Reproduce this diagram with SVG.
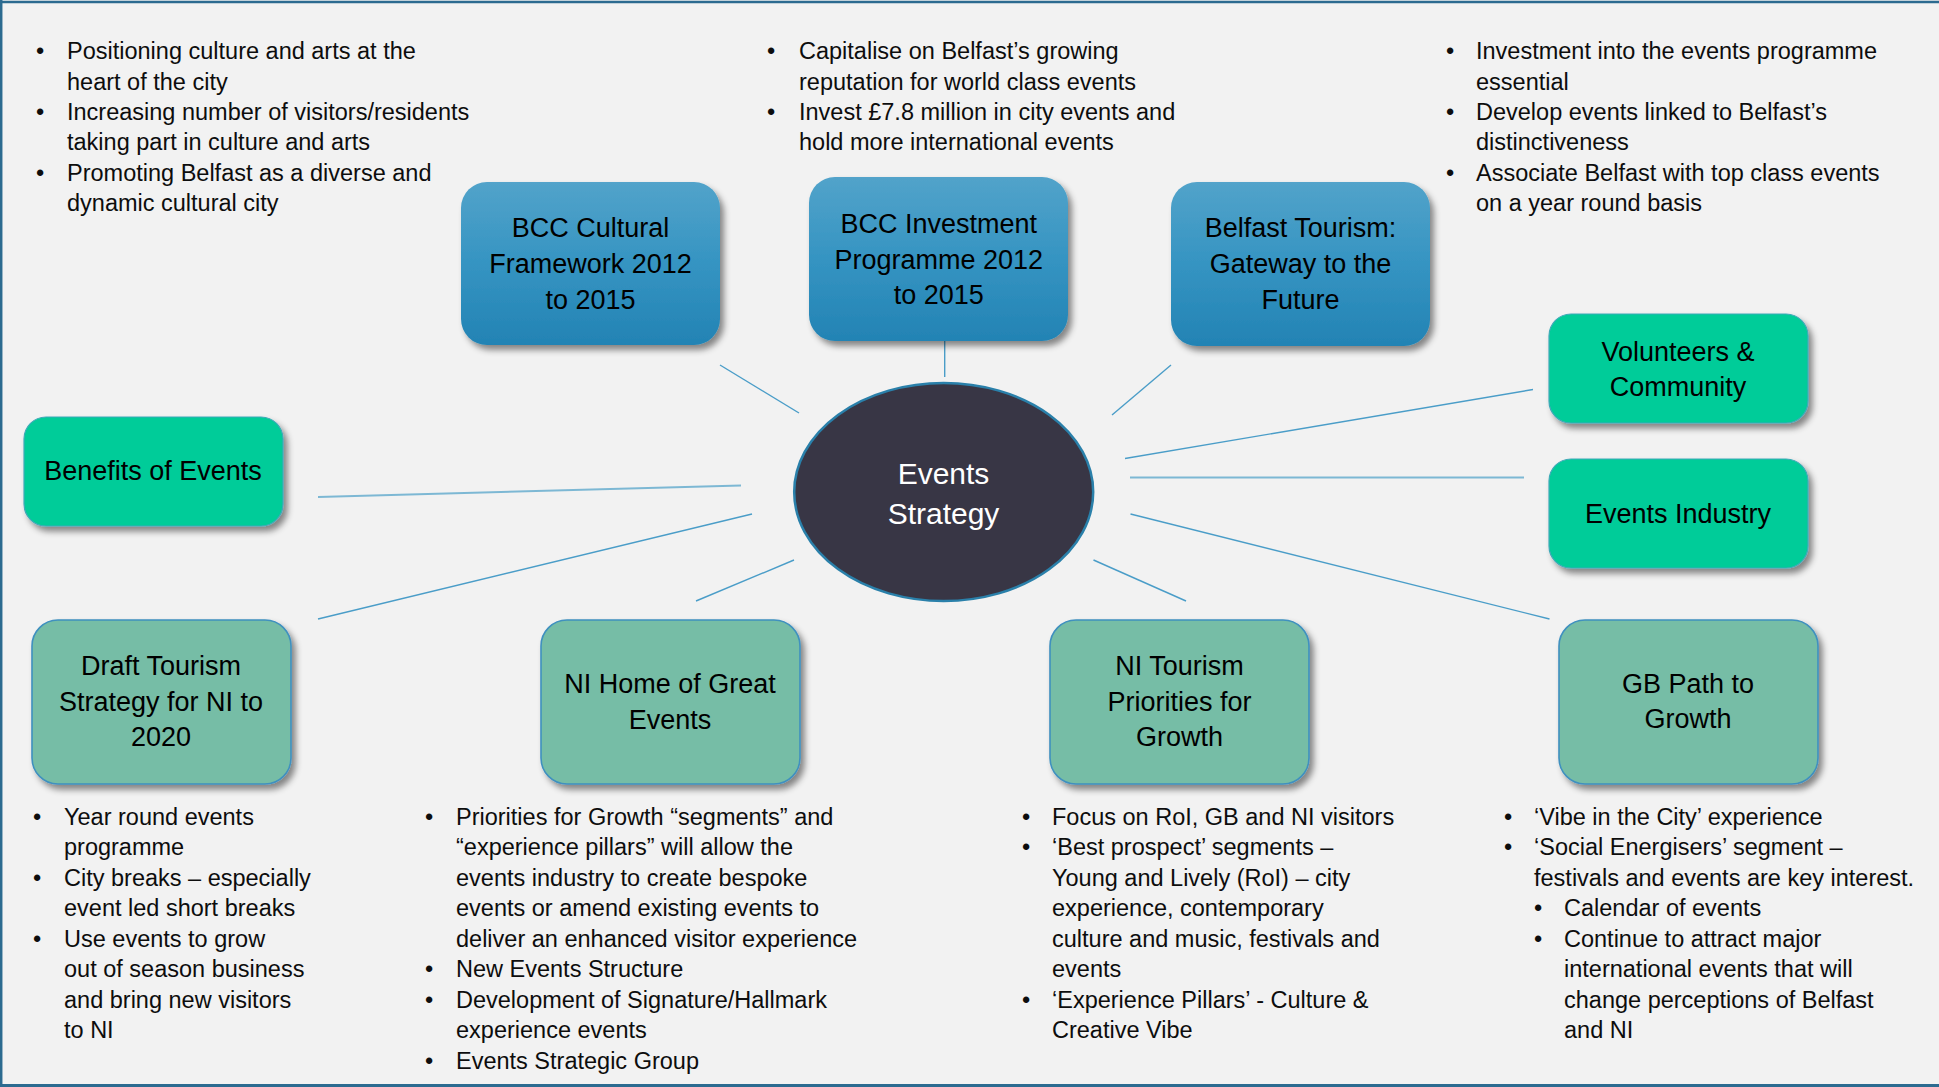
<svg xmlns="http://www.w3.org/2000/svg" width="1939" height="1087" viewBox="0 0 1939 1087">
  <defs>
    <linearGradient id="blueFill" x1="0" y1="0" x2="0" y2="1">
      <stop offset="0" stop-color="#52A3CA"/>
      <stop offset="0.5" stop-color="#3594C2"/>
      <stop offset="1" stop-color="#2383B4"/>
    </linearGradient>
    <filter id="shadow" x="-10%" y="-10%" width="125%" height="130%">
      <feDropShadow dx="4" dy="5" stdDeviation="3" flood-color="#000" flood-opacity="0.45"/>
    </filter>
    <style>
      .body { font-family: "Liberation Sans", Arial, sans-serif; font-size: 23.5px; fill: #0d0d0d; }
      .label { font-family: "Liberation Sans", Arial, sans-serif; font-size: 27px; fill: #000; text-anchor: middle; }
      .hub-label { font-family: "Liberation Sans", Arial, sans-serif; font-size: 30px; fill: #fff; text-anchor: middle; }
      .blue { fill: url(#blueFill); filter: url(#shadow); }
      .green { fill: #00CC99; stroke: #3FA9B8; stroke-width: 1.2; filter: url(#shadow); }
      .teal { fill: #76BDA6; stroke: #3F90BF; stroke-width: 1.6; filter: url(#shadow); }
      .link { stroke: #4A9DC8; stroke-width: 1.4; fill: none; }
      .link-soft { stroke: #7DB8D4; stroke-width: 2; fill: none; }
    </style>
  </defs>

  <!-- page background and frame -->
  <rect x="0" y="0" width="1939" height="1087" fill="#F2F2F2"/>
  <line x1="0" y1="2" x2="1939" y2="2" stroke="#2C6B90" stroke-width="2.5"/>
  <line x1="1.2" y1="0" x2="1.2" y2="1087" stroke="#2C6B90" stroke-width="2.5"/>
  <line x1="0" y1="1085.5" x2="1939" y2="1085.5" stroke="#2C6B90" stroke-width="3"/>

  <!-- connectors -->
  <g id="connectors">
    <line class="link" x1="720" y1="365" x2="799" y2="413"/>
    <line class="link" x1="944.7" y1="328" x2="944.7" y2="377"/>
    <line class="link" x1="1171" y1="365" x2="1112" y2="415"/>
    <line class="link" x1="1533" y1="389.5" x2="1125" y2="458.5"/>
    <line class="link-soft" x1="1130" y1="477.5" x2="1524" y2="477.5"/>
    <line class="link" x1="1130.5" y1="514" x2="1549.5" y2="619"/>
    <line class="link" x1="1093.5" y1="560" x2="1186" y2="601"/>
    <line class="link" x1="794" y1="560" x2="696" y2="601"/>
    <line class="link" x1="752" y1="514" x2="318" y2="619"/>
    <line class="link-soft" x1="741" y1="485.5" x2="318" y2="497"/>
  </g>

  <!-- central hub -->
  <g id="events-strategy">
    <ellipse cx="943.7" cy="492" rx="149.5" ry="109" fill="#383645" stroke="#2A80AA" stroke-width="2.5"/>
    <text class="hub-label" x="943.5" y="484">Events</text>
    <text class="hub-label" x="943.5" y="524">Strategy</text>
  </g>

  <!-- upper strategy documents -->
  <g id="bcc-cultural-framework">
    <rect class="blue" x="461" y="182" width="259" height="163" rx="26"/>
    <text class="label" x="590.5" y="237">BCC Cultural</text>
    <text class="label" x="590.5" y="273">Framework 2012</text>
    <text class="label" x="590.5" y="309">to 2015</text>
  </g>
  <g id="bcc-investment-programme">
    <rect class="blue" x="809" y="177" width="259" height="164" rx="26"/>
    <text class="label" x="938.8" y="233">BCC Investment</text>
    <text class="label" x="938.8" y="269">Programme 2012</text>
    <text class="label" x="938.8" y="304">to 2015</text>
  </g>
  <g id="belfast-tourism">
    <rect class="blue" x="1171" y="182" width="259" height="164" rx="26"/>
    <text class="label" x="1300.5" y="237">Belfast Tourism:</text>
    <text class="label" x="1300.5" y="273">Gateway to the</text>
    <text class="label" x="1300.5" y="309">Future</text>
  </g>

  <!-- side themes -->
  <g id="volunteers-community">
    <rect class="green" x="1549" y="314" width="259" height="109" rx="22"/>
    <text class="label" x="1678" y="361">Volunteers &amp;</text>
    <text class="label" x="1678" y="396">Community</text>
  </g>
  <g id="events-industry">
    <rect class="green" x="1549" y="459" width="259" height="109" rx="22"/>
    <text class="label" x="1678" y="523">Events Industry</text>
  </g>
  <g id="benefits-of-events">
    <rect class="green" x="24" y="417" width="259" height="109" rx="22"/>
    <text class="label" x="153" y="480">Benefits of Events</text>
  </g>

  <!-- lower strategy documents -->
  <g id="draft-tourism-strategy">
    <rect class="teal" x="32" y="620" width="259" height="164" rx="26"/>
    <text class="label" x="161" y="675">Draft Tourism</text>
    <text class="label" x="161" y="711">Strategy for NI to</text>
    <text class="label" x="161" y="746">2020</text>
  </g>
  <g id="ni-home-of-great-events">
    <rect class="teal" x="541" y="620" width="259" height="164" rx="26"/>
    <text class="label" x="670" y="693">NI Home of Great</text>
    <text class="label" x="670" y="729">Events</text>
  </g>
  <g id="ni-tourism-priorities">
    <rect class="teal" x="1050" y="620" width="259" height="164" rx="26"/>
    <text class="label" x="1179.5" y="675">NI Tourism</text>
    <text class="label" x="1179.5" y="711">Priorities for</text>
    <text class="label" x="1179.5" y="746">Growth</text>
  </g>
  <g id="gb-path-to-growth">
    <rect class="teal" x="1559" y="620" width="259" height="164" rx="26"/>
    <text class="label" x="1688" y="693">GB Path to</text>
    <text class="label" x="1688" y="728">Growth</text>
  </g>

  <!-- notes above the upper documents -->
  <g id="notes-cultural" class="body">
    <text x="36" y="59.3">•</text>
    <text x="67" y="59.3">Positioning culture and arts at the</text>
    <text x="67" y="89.6">heart of the city</text>
    <text x="36" y="119.9">•</text>
    <text x="67" y="119.9">Increasing number of visitors/residents</text>
    <text x="67" y="150.2">taking part in culture and arts</text>
    <text x="36" y="180.5">•</text>
    <text x="67" y="180.5">Promoting Belfast as a diverse and</text>
    <text x="67" y="210.8">dynamic cultural city</text>
  </g>
  <g id="notes-investment" class="body">
    <text x="767" y="59.3">•</text>
    <text x="799" y="59.3">Capitalise on Belfast’s growing</text>
    <text x="799" y="89.6">reputation for world class events</text>
    <text x="767" y="119.9">•</text>
    <text x="799" y="119.9">Invest £7.8 million in city events and</text>
    <text x="799" y="150.2">hold more international events</text>
  </g>
  <g id="notes-tourism" class="body">
    <text x="1446" y="59.3">•</text>
    <text x="1476" y="59.3">Investment into the events programme</text>
    <text x="1476" y="89.6">essential</text>
    <text x="1446" y="119.9">•</text>
    <text x="1476" y="119.9">Develop events linked to Belfast’s</text>
    <text x="1476" y="150.2">distinctiveness</text>
    <text x="1446" y="180.5">•</text>
    <text x="1476" y="180.5">Associate Belfast with top class events</text>
    <text x="1476" y="210.8">on a year round basis</text>
  </g>

  <!-- notes below the lower documents -->
  <g id="notes-draft" class="body">
    <text x="33" y="824.5">•</text>
    <text x="64" y="824.5">Year round events</text>
    <text x="64" y="855">programme</text>
    <text x="33" y="885.5">•</text>
    <text x="64" y="885.5">City breaks – especially</text>
    <text x="64" y="916">event led short breaks</text>
    <text x="33" y="946.5">•</text>
    <text x="64" y="946.5">Use events to grow</text>
    <text x="64" y="977">out of season business</text>
    <text x="64" y="1007.5">and bring new visitors</text>
    <text x="64" y="1038">to NI</text>
  </g>
  <g id="notes-home" class="body">
    <text x="425" y="824.5">•</text>
    <text x="456" y="824.5">Priorities for Growth “segments” and</text>
    <text x="456" y="855">“experience pillars” will allow the</text>
    <text x="456" y="885.5">events industry to create bespoke</text>
    <text x="456" y="916">events or amend existing events to</text>
    <text x="456" y="946.5">deliver an enhanced visitor experience</text>
    <text x="425" y="977">•</text>
    <text x="456" y="977">New Events Structure</text>
    <text x="425" y="1007.5">•</text>
    <text x="456" y="1007.5">Development of Signature/Hallmark</text>
    <text x="456" y="1038">experience events</text>
    <text x="425" y="1068.5">•</text>
    <text x="456" y="1068.5">Events Strategic Group</text>
  </g>
  <g id="notes-priorities" class="body">
    <text x="1022" y="824.5">•</text>
    <text x="1052" y="824.5">Focus on RoI, GB and NI visitors</text>
    <text x="1022" y="855">•</text>
    <text x="1052" y="855">‘Best prospect’ segments –</text>
    <text x="1052" y="885.5">Young and Lively (RoI) – city</text>
    <text x="1052" y="916">experience, contemporary</text>
    <text x="1052" y="946.5">culture and music, festivals and</text>
    <text x="1052" y="977">events</text>
    <text x="1022" y="1007.5">•</text>
    <text x="1052" y="1007.5">‘Experience Pillars’ - Culture &amp;</text>
    <text x="1052" y="1038">Creative Vibe</text>
  </g>
  <g id="notes-gb" class="body">
    <text x="1504" y="824.5">•</text>
    <text x="1534" y="824.5">‘Vibe in the City’ experience</text>
    <text x="1504" y="855">•</text>
    <text x="1534" y="855">‘Social Energisers’ segment –</text>
    <text x="1534" y="885.5">festivals and events are key interest.</text>
    <text x="1534" y="916">•</text>
    <text x="1564" y="916">Calendar of events</text>
    <text x="1534" y="946.5">•</text>
    <text x="1564" y="946.5">Continue to attract major</text>
    <text x="1564" y="977">international events that will</text>
    <text x="1564" y="1007.5">change perceptions of Belfast</text>
    <text x="1564" y="1038">and NI</text>
  </g>
</svg>
